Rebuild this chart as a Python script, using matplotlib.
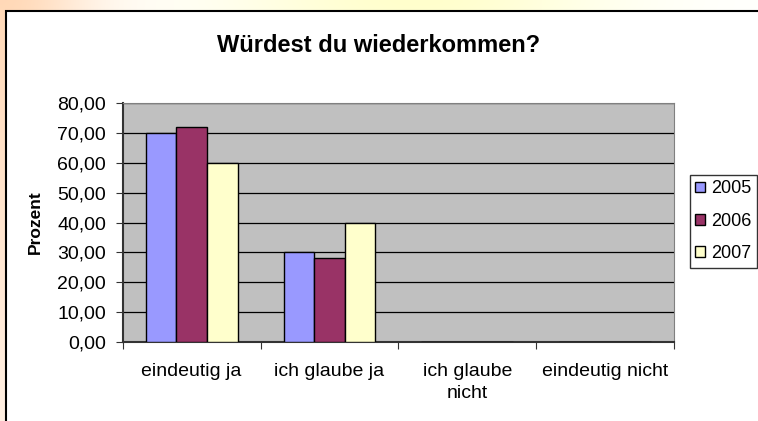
import numpy as np
import matplotlib
matplotlib.use("Agg")
import matplotlib.pyplot as plt
from matplotlib.patches import Rectangle
from matplotlib.ticker import FuncFormatter

plt.rcParams['font.family'] = ['Liberation Sans', 'DejaVu Sans']

# donnees
kategorien = ["eindeutig ja", "ich glaube ja", "ich glaube\nnicht", "eindeutig nicht"]
jahre = ["2005", "2006", "2007"]
werte_2005 = [70, 30, 0, 0]
werte_2006 = [72, 28, 0, 0]
werte_2007 = [60, 40, 0, 0]
farben = ["#9999FF", "#993366", "#FFFFCC"]

fig = plt.figure(figsize=(7.58, 4.21), dpi=100)

# fond degrade derriere le graphique
bg = fig.add_axes([0, 0, 1, 1], zorder=-10)
h, w = 421, 758
xx = np.linspace(0, 1, w)[None, :]
yy = np.linspace(0, 1, h)[:, None]
img = np.ones((h, w, 3))
peach = np.array([1.0, 0.85, 0.72])
yellow = np.array([1.0, 1.0, 0.80])
wl = np.exp(-(xx / 0.12) ** 2) * (1 - 0.6 * yy)
wy = np.exp(-((xx - 0.55) / 0.25) ** 2) * np.exp(-(yy / 0.1) ** 2)
for c in range(3):
    img[:, :, c] = 1 - wl * (1 - peach[c]) - wy * (1 - yellow[c])
bg.imshow(np.clip(img, 0, 1), aspect="auto", extent=[0, 1, 0, 1])
bg.axis("off")

# cadre du graphique
fig.patches.append(Rectangle((6 / 758, -0.1), 1.2, (1 - 11 / 421) + 0.1,
                             transform=fig.transFigure, facecolor="white",
                             edgecolor="black", linewidth=1.5, zorder=-5))

ax = fig.add_axes([122.7 / 758, 1 - 342 / 421, (674 - 122.7) / 758, (342 - 103) / 421])
ax.set_facecolor("#C0C0C0")

x = np.arange(len(kategorien))
bw = 0.222
for i, (vals, lab) in enumerate(zip([werte_2005, werte_2006, werte_2007], jahre)):
    ax.bar(x + (i - 1) * bw, vals, bw, color=farben[i], edgecolor="black",
           linewidth=1, label=lab, zorder=3)

ax.set_xlim(-0.5, 3.5)
ax.set_ylim(0, 80)
ax.set_yticks(range(0, 81, 10))
ax.yaxis.set_major_formatter(FuncFormatter(lambda v, p: f"{v:.2f}".replace(".", ",")))
ax.grid(axis="y", color="black", linewidth=0.9, zorder=1)
ax.set_axisbelow(True)

ax.set_xticks(np.arange(-0.5, 4, 1))
ax.set_xticklabels([])
ax.set_xticks(x, minor=True)
ax.set_xticklabels(kategorien, minor=True, fontsize=14, linespacing=1.4)
ax.tick_params(axis="x", which="minor", length=0, pad=15)
ax.tick_params(axis="x", which="major", length=5, direction="out", color="#333333")
ax.tick_params(axis="y", length=5, direction="out", labelsize=14, color="#333333", pad=7)

for s in ["top", "right"]:
    ax.spines[s].set_color("#808080")
ax.spines["left"].set_color("#333333")
ax.spines["bottom"].set_color("#333333")
ax.spines["left"].set_linewidth(1.5)
ax.spines["bottom"].set_linewidth(1.5)

ax.set_ylabel("Prozent", fontsize=12.5, fontweight="bold", labelpad=10)

fig.text(379 / 758, 1 - 45 / 421, "Würdest du wiederkommen?", fontsize=17,
         fontweight="bold", ha="center", va="center")

fig.legend(loc="upper left", bbox_to_anchor=(690 / 758, 1 - 175 / 421),
           fontsize=13, frameon=True, fancybox=False, edgecolor="black",
           handlelength=0.55, handleheight=0.55, handletextpad=0.3,
           labelspacing=0.85, borderaxespad=0, borderpad=0.3)

fig.savefig("out.png", dpi=100)
